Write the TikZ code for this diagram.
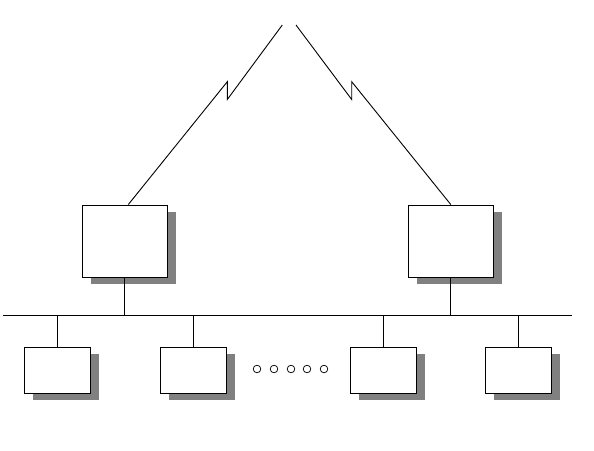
\documentclass[tikz,border=0pt]{standalone}
\usepackage{xcolor}
\usepackage{tikz}
\usetikzlibrary{calc,shadows,positioning}

\begin{document}
\begin{tikzpicture}[x=1pt,y=-1pt,line width=0.9pt,
    host/.style={draw,fill=white,inner sep=0pt,minimum width=85pt,minimum height=72pt,
      drop shadow={shadow xshift=8.5pt,shadow yshift=-7pt,fill=black!50,opacity=1}},
    station/.style={host,minimum width=66.5pt,minimum height=46pt}]
        \useasboundingbox (0,0) rectangle (594,450);
        \node[host] (hostA) at (124.8,241) {};
        \node[host] (hostB) at (450.8,241) {};
        \coordinate (skyA) at (282.3,25);
        \coordinate (skyB) at (296,25);
        \draw (skyA)--(227.3,99.5)--(227.3,81.7)--($(hostA.north)+(3.5,0)$);
        \draw (skyB)--(351.7,99.5)--(351.7,81.7)--(hostB.north);
        \coordinate (busW) at (3,315);
        \coordinate (busE) at (572,315);
        \draw (busW)--(busE);
        \draw (hostA.south)--(hostA.south|-busW);
        \draw (hostB.south)--(hostB.south|-busW);
        \foreach \n/\x/\w in {s1/57.5/1.6,s2/193.5/0.9,s3/383.3/0.9,s4/518.3/1.6}{\node[station] (\n) at (\x,370.3) {};
          \draw[line width=\w pt] (\n.north)--(\n.north|-busW);}
        \foreach \x in {257,274,291,307,324}{\draw[line width=0.7pt] (\x,369) circle (3.8);}
      \end{tikzpicture}
\end{document}
